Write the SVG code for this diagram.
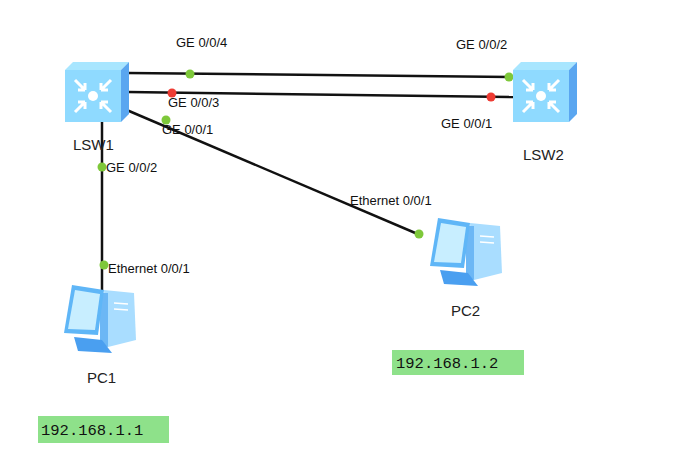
<svg xmlns="http://www.w3.org/2000/svg" width="675" height="474" viewBox="0 0 675 474">
<style>
.l{font-family:"Liberation Sans",Arial,sans-serif;font-size:13px;fill:#111}
.n{font-family:"Liberation Sans",Arial,sans-serif;font-size:15px;fill:#222}
.ip{font-family:"Liberation Mono","DejaVu Sans Mono",monospace;font-size:15.5px;fill:#111}
.ln{stroke:#111;stroke-width:2.5;fill:none}
.g{fill:#7ec83a}.r{fill:#ee3b33}
.ipb{fill:#8ee18a}
</style>
<defs>
<g id="sw">
<path d="M0,8 L8,0 L64,0 L56,8 Z" fill="#a8e6ff"/>
<path d="M56,8 L64,0 L64,52 L56,60 Z" fill="#5aa6f0"/>
<rect x="0" y="8" width="56" height="52" fill="#8fdaff"/>
<g stroke="#fff" stroke-width="3" fill="none">
<path d="M10,18 L20,28 M20,28 L13,28 M20,28 L20,21"/>
<path d="M46,18 L36,28 M36,28 L43,28 M36,28 L36,21"/>
<path d="M10,50 L20,40 M20,40 L13,40 M20,40 L20,47"/>
<path d="M46,50 L36,40 M36,40 L43,40 M36,40 L36,47"/>
</g>
<circle cx="28" cy="34" r="5" fill="#fff"/>
</g>
<g id="pc">
<path d="M40,5 L70,8 L72,55 L44,62 Z" fill="#a9ddff"/>
<path d="M36,8 L44,8 L44,62 L36,60 Z" fill="#6cb7f5"/>
<path d="M8,0 L40,5 L34,50 L0,48 Z" fill="#5fb6f7"/>
<path d="M11,5 L36,9 L31,45 L4,44 Z" fill="#c8eeff"/>
<path d="M10,52 L38,55 L48,68 L14,66 Z" fill="#4a9ff0"/>
<path d="M50,18 L64,19 M50,24 L64,25" stroke="#fff" stroke-width="1.5"/>
</g>
</defs>
<rect width="675" height="474" fill="#fff"/>
<g id="connectors">
<line class="ln" x1="128" y1="73" x2="512" y2="77"/>
<line class="ln" x1="128" y1="92" x2="515" y2="97"/>
<line class="ln" x1="122" y1="108" x2="420" y2="235"/>
<line class="ln" x1="102" y1="122" x2="102" y2="290"/>
<circle class="g" cx="190" cy="74" r="4.5"/>
<circle class="g" cx="509" cy="77" r="4.5"/>
<circle class="r" cx="172" cy="93" r="4.5"/>
<circle class="r" cx="491" cy="97" r="4.5"/>
<circle class="g" cx="166" cy="120" r="4.5"/>
<circle class="g" cx="102" cy="167" r="4.5"/>
<circle class="g" cx="104" cy="265" r="4.5"/>
<circle class="g" cx="419" cy="234" r="4.5"/>
<text class="l" x="176" y="47">GE 0/0/4</text>
<text class="l" x="456" y="49">GE 0/0/2</text>
<text class="l" x="168" y="107">GE 0/0/3</text>
<text class="l" x="441" y="128">GE 0/0/1</text>
<text class="l" x="162" y="134">GE 0/0/1</text>
<text class="l" x="106" y="172">GE 0/0/2</text>
<text class="l" x="350" y="205">Ethernet 0/0/1</text>
<text class="l" x="108" y="273">Ethernet 0/0/1</text>
</g>
<g id="LSW1"><use href="#sw" x="65" y="62"/><text class="n" x="73" y="150">LSW1</text></g>
<g id="LSW2"><use href="#sw" x="513" y="62"/><text class="n" x="523" y="160">LSW2</text></g>
<g id="PC1"><use href="#pc" x="64" y="285"/><text class="n" x="87" y="383">PC1</text></g>
<g id="PC2"><use href="#pc" x="430" y="218"/><text class="n" x="451" y="316">PC2</text></g>
<g id="IP2"><rect class="ipb" x="392" y="350" width="132" height="25"/><text class="ip" x="396" y="368">192.168.1.2</text></g>
<g id="IP1"><rect class="ipb" x="38" y="416" width="131" height="27"/><text class="ip" x="41" y="435">192.168.1.1</text></g>
</svg>
